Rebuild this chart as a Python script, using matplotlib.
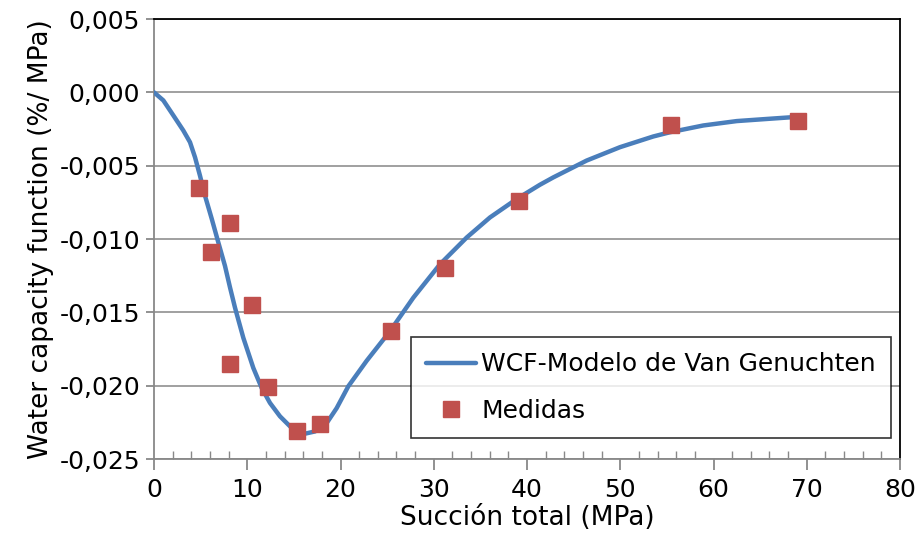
import matplotlib.pyplot as plt
from matplotlib.ticker import FuncFormatter, MultipleLocator

# WCF model curve
curva_x = [0.0, 1.0, 2.07, 3.14, 3.86, 4.4, 4.93, 5.47, 6.19, 6.9, 7.61, 8.15, 8.69,
           9.58, 10.65, 11.55, 12.44, 13.51, 14.77, 16.01, 17.27, 18.52, 19.59, 20.84,
           22.81, 25.31, 27.81, 30.67, 33.53, 36.03, 38.9, 41.39, 42.82, 46.4, 49.97,
           53.54, 55.34, 58.9, 62.49, 66.06, 68.56, 69.1]
curva_y = [0.0, -0.00055, -0.00157, -0.0026, -0.0034, -0.00443, -0.00568, -0.00705,
           -0.00862, -0.01024, -0.01183, -0.0133, -0.01469, -0.01674, -0.01879,
           -0.02016, -0.02118, -0.02209, -0.02289, -0.0233, -0.02312, -0.02255,
           -0.02153, -0.02004, -0.0183, -0.01628, -0.014, -0.01172, -0.0099,
           -0.00853, -0.00727, -0.0063, -0.0058, -0.00465, -0.00374, -0.00301,
           -0.00272, -0.00226, -0.00196, -0.0018, -0.00169, -0.00166]

# measured points
medidas_x = [4.8, 6.1, 8.15, 8.15, 10.5, 12.2, 15.3, 17.8, 25.4, 31.2, 39.1, 55.4, 69.1]
medidas_y = [-0.0065, -0.0109, -0.0089, -0.0185, -0.0145, -0.0201, -0.0231, -0.0226,
             -0.0163, -0.0120, -0.0074, -0.00226, -0.00196]

plt.rcParams['font.family'] = ['DejaVu Sans']
plt.rcParams['font.size'] = 18

fig = plt.figure(figsize=(9.17, 5.49), dpi=100)
ax = fig.add_axes([154 / 917, 1 - 459 / 549, 746 / 917, 440 / 549])

ax.plot(curva_x, curva_y, color='#4a7ebb', linewidth=3.2, label='WCF-Modelo de Van Genuchten',
        solid_capstyle='round', solid_joinstyle='round', zorder=3)
ax.plot(medidas_x, medidas_y, linestyle='none', marker='s', markersize=12,
        color='#c0504d', markeredgecolor='#c0504d', label='Medidas', zorder=4)

ax.set_xlim(0, 80)
ax.set_ylim(-0.025, 0.005)
ax.xaxis.set_major_locator(MultipleLocator(10))
ax.xaxis.set_minor_locator(MultipleLocator(2))
ax.yaxis.set_major_locator(MultipleLocator(0.005))

coma = FuncFormatter(lambda v, p: f'{v:.3f}'.replace('.', ',').replace('-0,000', '0,000'))
ax.yaxis.set_major_formatter(coma)

ax.grid(axis='y', color='#999999', linewidth=1.3)
ax.set_axisbelow(True)

for s in ['left', 'bottom']:
    ax.spines[s].set_color('#888888')
    ax.spines[s].set_linewidth(1.3)
for s in ['top', 'right']:
    ax.spines[s].set_color('black')
    ax.spines[s].set_linewidth(1.3)

ax.tick_params(axis='x', which='major', direction='out', length=8, color='#888888', width=1.3, pad=6)
ax.tick_params(axis='x', which='minor', direction='in', length=6, color='#888888', width=1.0)
ax.tick_params(axis='y', which='major', direction='out', length=6, color='#888888', width=1.3, pad=4)

ax.set_xlabel('Succión total (MPa)', labelpad=2, fontsize=19)
ax.set_ylabel('Water capacity function (%/ MPa)', labelpad=4, fontsize=19)

leg = ax.legend(loc='lower right', bbox_to_anchor=(0.988, 0.048), frameon=True, fancybox=False,
                edgecolor='black', handlelength=2.0, handletextpad=0.2, labelspacing=0.9,
                borderpad=0.6, borderaxespad=0, fontsize=18)
leg.get_frame().set_linewidth(1.2)

fig.savefig('out.png', dpi=100)
